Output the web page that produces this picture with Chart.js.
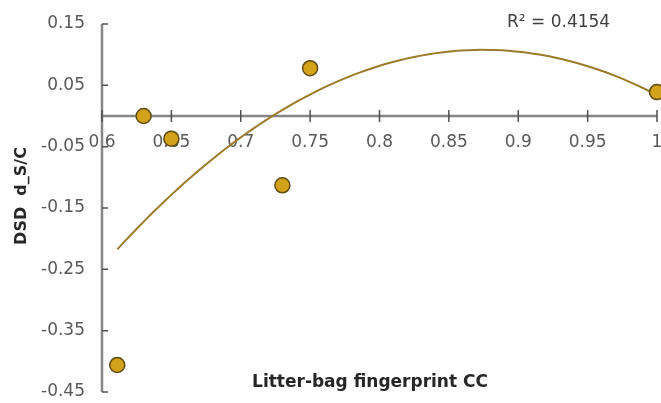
<!DOCTYPE html>
<html>
<head>
<meta charset="utf-8">
<script src="https://cdn.jsdelivr.net/npm/chart.js@4.4.1/dist/chart.umd.min.js"></script>
<style>
  html, body { margin: 0; padding: 0; background: #fff; }
  #wrap { width: 661px; height: 403px; }
</style>
</head>
<body>
<div id="wrap"><canvas id="chart" width="661" height="403"></canvas></div>
<script>
// litter-bag CC vs DSD values
const ccValues = [0.611, 0.63, 0.65, 0.73, 0.75, 1.0];
const dsdValues = [-0.406, 0.0, -0.037, -0.113, 0.078, 0.039];
const xTicks = [0.6, 0.65, 0.7, 0.75, 0.8, 0.85, 0.9, 0.95, 1];
const yTicks = [-0.45, -0.35, -0.25, -0.15, -0.05, 0.05, 0.15];
const rSquared = '0.4154';

const xTitle = 'Litter-bag fingerprint CC';
const yTitle = 'DSD  d_S/C';

// 2nd order least squares fit (like the spreadsheet trendline)
function polyFit2(xs, ys) {
  let s = [0, 0, 0, 0, 0], t = [0, 0, 0];
  xs.forEach((x, i) => {
    let p = 1;
    for (let k = 0; k < 5; k++) { s[k] += p; if (k < 3) t[k] += p * ys[i]; p *= x; }
  });
  const m = [[s[0], s[1], s[2], t[0]], [s[1], s[2], s[3], t[1]], [s[2], s[3], s[4], t[2]]];
  for (let c = 0; c < 3; c++) {
    for (let r = c + 1; r < 3; r++) {
      const f = m[r][c] / m[c][c];
      for (let k = c; k < 4; k++) m[r][k] -= f * m[c][k];
    }
  }
  const coef = [0, 0, 0];
  for (let r = 2; r >= 0; r--) {
    let v = m[r][3];
    for (let k = r + 1; k < 3; k++) v -= m[r][k] * coef[k];
    coef[r] = v / m[r][r];
  }
  return coef;
}

const coef = polyFit2(ccValues, dsdValues);
const xMin = Math.min(...ccValues), xMax = Math.max(...ccValues);
const trend = [];
for (let i = 0; i <= 80; i++) {
  const x = xMin + (xMax - xMin) * i / 80;
  trend.push({ x: x, y: coef[0] + coef[1] * x + coef[2] * x * x });
}

const tickFont = { family: 'DejaVu Sans', size: 17 };
const tickColor = '#595959';

// keep label overhang from shrinking the plot
function noPadding(s) {
  s.paddingLeft = 0; s.paddingRight = 0; s.paddingTop = 0; s.paddingBottom = 0;
}

const axisDecor = {
  id: 'axisDecor',
  beforeDatasetsDraw(chart) {
    const { ctx, chartArea, scales } = chart;
    const x = scales.x, y = scales.y;
    const y0 = y.getPixelForValue(0);
    ctx.save();
    ctx.strokeStyle = '#868686';
    ctx.lineWidth = 2.5;
    ctx.beginPath();
    ctx.moveTo(chartArea.left, chartArea.top);
    ctx.lineTo(chartArea.left, chartArea.bottom);
    ctx.moveTo(chartArea.left, y0);
    ctx.lineTo(chartArea.right, y0);
    ctx.stroke();
    ctx.strokeStyle = '#505050';
    ctx.lineWidth = 1.5;
    ctx.beginPath();
    yTicks.forEach(v => {
      const py = y.getPixelForValue(v);
      ctx.moveTo(chartArea.left, py);
      ctx.lineTo(chartArea.left + 6, py);
    });
    xTicks.forEach(v => {
      const px = x.getPixelForValue(v);
      ctx.moveTo(px, y0 - 6);
      ctx.lineTo(px, y0 + 6);
    });
    ctx.stroke();
    ctx.restore();
  },
  afterDraw(chart) {
    const ctx = chart.ctx;
    ctx.save();
    ctx.fillStyle = '#262626';
    ctx.font = 'bold 17px "DejaVu Sans"';
    ctx.textAlign = 'center';
    ctx.textBaseline = 'middle';
    ctx.fillText(xTitle, 370, 383);
    ctx.translate(22, 196);
    ctx.rotate(-Math.PI / 2);
    ctx.font = 'bold 16px "DejaVu Sans"';
    ctx.fillText(yTitle, 0, 0);
    ctx.restore();

    ctx.save();
    ctx.fillStyle = '#404040';
    ctx.font = '17px "DejaVu Sans"';
    ctx.textAlign = 'left';
    ctx.textBaseline = 'middle';
    ctx.fillText('R² = ' + rSquared, 507, 23);
    ctx.restore();
  }
};

new Chart(document.getElementById('chart'), {
  type: 'scatter',
  data: {
    datasets: [
      {
        label: 'DSD',
        data: ccValues.map((v, i) => ({ x: v, y: dsdValues[i] })),
        backgroundColor: '#D2A21A',
        borderColor: '#5E4B12',
        borderWidth: 1.5,
        pointRadius: 7.5,
        clip: false,
        order: 0
      },
      {
        type: 'line',
        label: 'trend',
        data: trend,
        borderColor: '#9C7B2A',
        borderWidth: 2,
        pointRadius: 0,
        fill: false,
        tension: 0,
        clip: false,
        order: 1
      }
    ]
  },
  options: {
    responsive: false,
    animation: false,
    layout: { autoPadding: false, padding: { left: 0, top: 24, right: 4, bottom: 11 } },
    plugins: { legend: { display: false }, tooltip: { enabled: false } },
    scales: {
      x: {
        type: 'linear',
        position: { y: 0 },
        min: 0.6,
        max: 1,
        grid: { display: false, drawTicks: false },
        border: { display: false },
        afterFit: noPadding,
        afterBuildTicks: s => { s.ticks = xTicks.map(v => ({ value: v })); },
        ticks: { font: tickFont, color: tickColor, padding: 16, maxRotation: 0, autoSkip: false,
                 callback: v => String(v) }
      },
      y: {
        type: 'linear',
        min: -0.45,
        max: 0.15,
        grid: { display: false, drawTicks: false },
        border: { display: false },
        afterFit: s => { noPadding(s); s.width = 102; },
        afterBuildTicks: s => { s.ticks = yTicks.map(v => ({ value: v })); },
        ticks: { font: tickFont, color: tickColor, padding: 17, autoSkip: false,
                 callback: v => String(v) }
      }
    }
  },
  plugins: [axisDecor]
});
</script>
</body>
</html>
